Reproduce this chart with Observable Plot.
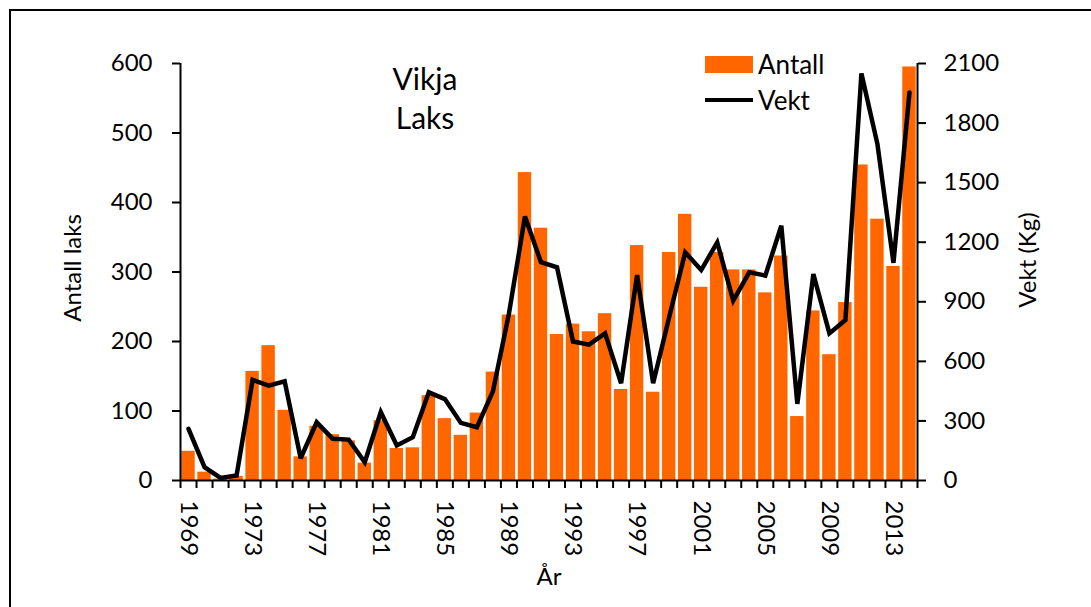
<!DOCTYPE html>
<html>
<head>
<meta charset="utf-8">
<script src="https://cdn.jsdelivr.net/npm/d3@7"></script>
<script src="https://cdn.jsdelivr.net/npm/@observablehq/plot@0.6"></script>
<style>
  html, body { margin: 0; padding: 0; background: #fff; }
  #wrap { position: relative; width: 1091px; height: 607px; overflow: hidden; font-family: Lato, sans-serif; }
  #border { position: absolute; left: 9px; top: 9px; right: -5px; bottom: -5px; border-top: 2px solid #000; border-left: 2px solid #000; pointer-events: none; }
  .legend { position: absolute; left: 705px; font-size: 26px; color: #000; display: flex; align-items: center; }
  .sw-bar { width: 48px; height: 17px; background: #ff6600; margin-right: 5px; }
  .sw-line { width: 48px; height: 0; border-top: 4.5px solid #000; margin-right: 5px; }
</style>
</head>
<body>
<div id="wrap">
  <div id="chart"></div>
  <div id="border"></div>
  <div class="legend" style="top:48px"><div class="sw-bar"></div><span>Antall</span></div>
  <div class="legend" style="top:84px"><div class="sw-line"></div><span>Vekt</span></div>
</div>
<script>
const years = d3.range(1969, 2015);
const antall = [42, 12, 2, 6, 157, 194, 101, 34, 78, 66, 57, 25, 86, 46, 47, 122, 89, 65, 97, 156,
  238, 443, 363, 210, 225, 214, 240, 131, 338, 127, 328, 383, 278, 328, 303, 303, 270, 323, 92, 244,
  181, 256, 454, 376, 308, 595];
const vekt = [260, 67, 13, 25, 507, 478, 500, 112, 293, 210, 206, 92, 344, 176, 218, 444, 410, 290, 268, 449,
  840, 1330, 1099, 1074, 700, 684, 741, 490, 1035, 490, 822, 1149, 1060, 1199, 906, 1048, 1032, 1283, 386, 1040,
  741, 808, 2050, 1694, 1096, 1954];
const labelYears = d3.range(1969, 2015, 4);
const leftTicks = d3.range(0, 601, 100);
const rightTicks = d3.range(0, 2101, 300);
const leftMax = 600, rightMax = 2100;
const title = "Vikja\nLaks";
const yLabelLeft = "Antall laks";
const yLabelRight = "Vekt (Kg)";
const xLabel = "År";

const rows = years.map((year, i) => ({year, antall: antall[i], vekt: vekt[i]}));
const k = leftMax / rightMax;
const xDomain = [years[0], years[years.length - 1] + 1];

const chart = Plot.plot({
  width: 1091,
  height: 607,
  marginLeft: 180,
  marginRight: 174,
  marginTop: 63,
  marginBottom: 127,
  style: {fontFamily: "Lato, sans-serif", fontSize: "24px", color: "#000", background: "transparent"},
  x: {type: "linear", domain: xDomain},
  y: {domain: [0, leftMax]},
  marks: [
    Plot.rectY(rows, {x1: "year", x2: d => d.year + 1, y: "antall", fill: "#ff6600", insetLeft: 1.3, insetRight: 1.3}),
    Plot.line(rows, {x: d => d.year + 0.5, y: d => d.vekt * k, stroke: "#000", strokeWidth: 4.5, strokeLinejoin: "miter", strokeMiterlimit: 3}),
    Plot.ruleY([0], {stroke: "#000", strokeWidth: 2}),
    Plot.ruleX([xDomain[0]], {y1: 0, y2: leftMax, stroke: "#000", strokeWidth: 2}),
    Plot.ruleX([xDomain[1]], {y1: 0, y2: leftMax, stroke: "#000", strokeWidth: 2}),
    Plot.axisX({ticks: d3.range(xDomain[0], xDomain[1] + 1), tickSize: 8, tickFormat: () => "", strokeWidth: 2, label: null}),
    Plot.axisX({ticks: labelYears.map(y => y + 0.5), tickSize: 0, tickPadding: 20, tickRotate: 90, tickFormat: d => String(d - 0.5), label: null}),
    Plot.axisY({ticks: leftTicks, tickSize: 8, tickPadding: 20, strokeWidth: 2, label: null}),
    Plot.axisY({anchor: "right", ticks: rightTicks.map(v => v * k), tickSize: 8, tickPadding: 18, strokeWidth: 2,
      tickFormat: d => String(Math.round(d / k)), label: null}),
    Plot.text([yLabelLeft], {frameAnchor: "left", textAnchor: "middle", rotate: -90, dx: -107, dy: -4, text: d => d, fontSize: 24}),
    Plot.text([yLabelRight], {frameAnchor: "right", textAnchor: "middle", rotate: -90, dx: 111, dy: -12, text: d => d, fontSize: 24}),
    Plot.text([xLabel], {frameAnchor: "bottom", dy: 104, text: d => d, fontSize: 24}),
    Plot.text([title], {frameAnchor: "top", dx: -124, dy: -1, lineAnchor: "top", lineHeight: 1.3, text: d => d, fontSize: 30})
  ]
});
document.getElementById("chart").appendChild(chart);
</script>
</body>
</html>
